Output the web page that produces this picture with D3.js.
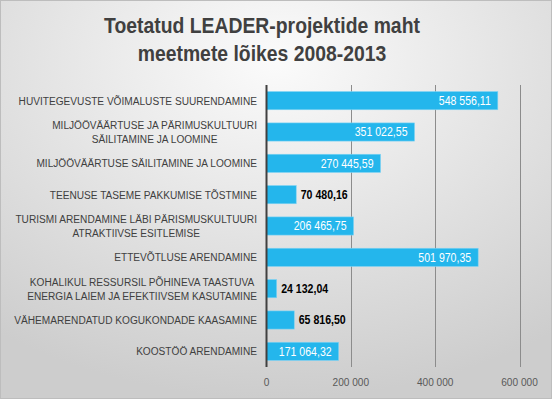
<!DOCTYPE html>
<html>
<head>
<meta charset="utf-8">
<script src="https://cdn.jsdelivr.net/npm/d3@7"></script>
<style>
  body { margin: 0; background: #fff; }
  svg text { font-family: "Liberation Sans", Arial, sans-serif; }
</style>
</head>
<body>
<div id="chart"></div>
<script>
var width = 552;
var height = 399;

var titleLines = ["Toetatud LEADER-projektide maht", "meetmete lõikes 2008-2013"];

// kategooriad (mitmerealised sildid jagatud ridadeks)
var categories = [
  ["HUVITEGEVUSTE VÕIMALUSTE SUURENDAMINE"],
  ["MILJÖÖVÄÄRTUSE JA PÄRIMUSKULTUURI", "SÄILITAMINE JA LOOMINE"],
  ["MILJÖÖVÄÄRTUSE SÄILITAMINE JA LOOMINE"],
  ["TEENUSE TASEME PAKKUMISE TÕSTMINE"],
  ["TURISMI ARENDAMINE LÄBI PÄRISMUSKULTUURI", "ATRAKTIIVSE ESITLEMISE"],
  ["ETTEVÕTLUSE ARENDAMINE"],
  ["KOHALIKUL RESSURSIL PÕHINEVA TAASTUVA", "ENERGIA LAIEM JA EFEKTIIVSEM KASUTAMINE"],
  ["VÄHEMARENDATUD KOGUKONDADE KAASAMINE"],
  ["KOOSTÖÖ ARENDAMINE"]
];
var values = [548556.11, 351022.55, 270445.59, 70480.16, 206465.75, 501970.35, 24132.04, 65816.50, 171064.32];
var xTicks = [0, 200000, 400000, 600000];

var data = categories.map(function (c, i) { return { id: i, lines: c, value: values[i] }; });

var locale = d3.formatLocale({ decimal: ",", thousands: " ", grouping: [3], currency: ["", ""] });
var fmtVal = locale.format(",.2f");
var fmtTick = locale.format(",d");

// kitsam kiri (Calibri puudub) - tekst surutakse horisontaalselt kokku
var squeeze = 0.88;

var svg = d3.select("#chart").append("svg")
    .attr("width", width)
    .attr("height", height);

var defs = svg.append("defs");
var grad = defs.append("radialGradient")
    .attr("id", "bg")
    .attr("cx", "50%").attr("cy", "15%").attr("r", "85%");
grad.append("stop").attr("offset", "0%").attr("stop-color", "#fbfbfb");
grad.append("stop").attr("offset", "100%").attr("stop-color", "#cdcdcd");

svg.append("rect")
    .attr("x", 0.5).attr("y", 0.5)
    .attr("width", width - 1).attr("height", height - 1)
    .attr("fill", "url(#bg)")
    .attr("stroke", "#bdbdbd");

// title
svg.append("g").selectAll("text")
    .data(titleLines)
    .enter().append("text")
    .attr("transform", function (d, i) { return "translate(262," + (33 + i * 28) + ") scale(" + squeeze + ",1)"; })
    .attr("text-anchor", "middle")
    .style("font-size", "22px")
    .style("font-weight", "bold")
    .attr("fill", "#404040")
    .text(function (d) { return d; });

var x = d3.scaleLinear()
    .domain([0, 600000])
    .range([266.5, 519.5]);

var y = d3.scaleBand()
    .domain(data.map(function (d) { return d.id; }))
    .range([85, 367])
    .paddingInner(0.42)
    .paddingOuter(0.21);

// gridlines
svg.append("g").selectAll("line")
    .data(xTicks.slice(1))
    .enter().append("line")
    .attr("x1", function (d) { return Math.round(x(d)) + 0.5; })
    .attr("x2", function (d) { return Math.round(x(d)) + 0.5; })
    .attr("y1", 85).attr("y2", 367)
    .attr("stroke", "#8c8c8c")
    .attr("stroke-width", 1);

// tick labels
svg.append("g").selectAll("text")
    .data(xTicks)
    .enter().append("text")
    .attr("transform", function (d) { return "translate(" + x(d) + ",386) scale(" + squeeze + ",1)"; })
    .attr("text-anchor", "middle")
    .style("font-size", "11.5px")
    .attr("fill", "#595959")
    .text(function (d) { return fmtTick(d); });

// bars
svg.append("g").selectAll("rect")
    .data(data)
    .enter().append("rect")
    .attr("x", x(0))
    .attr("y", function (d) { return y(d.id); })
    .attr("width", function (d) { return x(d.value) - x(0); })
    .attr("height", y.bandwidth())
    .attr("fill", "#24b6ec")
    .attr("stroke", "#7fd3f3")
    .attr("stroke-width", 0.6);

// value labels
var vl = svg.append("g").selectAll("text")
    .data(data)
    .enter().append("text")
    .attr("dy", "0.35em")
    .style("font-size", "12px")
    .text(function (d) { return fmtVal(d.value); });

vl.each(function (d) {
    var w = this.getComputedTextLength() * squeeze;
    var barW = x(d.value) - x(0);
    var t = d3.select(this);
    var cy = y(d.id) + y.bandwidth() / 2;
    if (w + 12 < barW) {
        t.attr("transform", "translate(" + (x(d.value) - 7) + "," + cy + ") scale(" + squeeze + ",1)")
         .attr("text-anchor", "end").attr("fill", "#ffffff");
    } else {
        t.attr("transform", "translate(" + (x(d.value) + 4.5) + "," + cy + ") scale(" + squeeze + ",1)")
         .attr("text-anchor", "start").attr("fill", "#000000")
         .style("font-weight", "bold");
    }
});

// category labels
var cat = svg.append("g").selectAll("g")
    .data(data)
    .enter().append("g");

cat.each(function (d) {
    var g = d3.select(this);
    var n = d.lines.length;
    var cy = y(d.id) + y.bandwidth() / 2;
    var texts = g.selectAll("text")
        .data(d.lines)
        .enter().append("text")
        .attr("dy", "0.35em")
        .attr("text-anchor", "middle")
        .style("font-size", "11.5px")
        .attr("fill", "#404040")
        .text(function (l) { return l; });
    var maxW = 0;
    texts.each(function () { maxW = Math.max(maxW, this.getComputedTextLength() * squeeze); });
    texts.attr("transform", function (l, i) {
        return "translate(" + (257 - maxW / 2) + "," + (cy + (i - (n - 1) / 2) * 14) + ") scale(" + squeeze + ",1)";
    });
});

// vertical axis line
svg.append("line")
    .attr("x1", x(0)).attr("x2", x(0))
    .attr("y1", 85).attr("y2", 367)
    .attr("stroke", "#404040")
    .attr("stroke-width", 2);
</script>
</body>
</html>
